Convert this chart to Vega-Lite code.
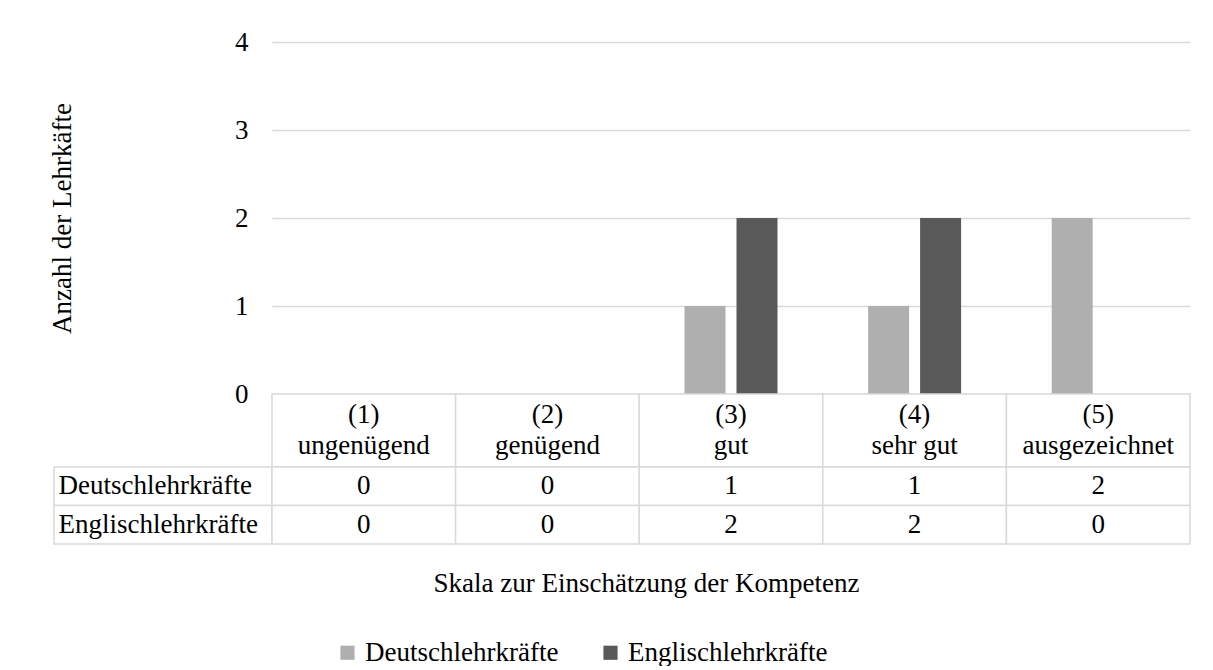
{
  "$schema": "https://vega.github.io/schema/vega-lite/v6.json",
  "padding": {"left": 47, "top": 28, "right": 0, "bottom": 0},
  "background": "white",
  "datasets": {
    "werte": [
      {"kat": "(1)\nungenügend", "gruppe": "Deutschlehrkräfte", "anzahl": 0},
      {"kat": "(1)\nungenügend", "gruppe": "Englischlehrkräfte", "anzahl": 0},
      {"kat": "(2)\ngenügend", "gruppe": "Deutschlehrkräfte", "anzahl": 0},
      {"kat": "(2)\ngenügend", "gruppe": "Englischlehrkräfte", "anzahl": 0},
      {"kat": "(3)\ngut", "gruppe": "Deutschlehrkräfte", "anzahl": 1},
      {"kat": "(3)\ngut", "gruppe": "Englischlehrkräfte", "anzahl": 2},
      {"kat": "(4)\nsehr gut", "gruppe": "Deutschlehrkräfte", "anzahl": 1},
      {"kat": "(4)\nsehr gut", "gruppe": "Englischlehrkräfte", "anzahl": 2},
      {"kat": "(5)\nausgezeichnet", "gruppe": "Deutschlehrkräfte", "anzahl": 2},
      {"kat": "(5)\nausgezeichnet", "gruppe": "Englischlehrkräfte", "anzahl": 0}
    ]
  },
  "columns": 2,
  "spacing": 0,
  "bounds": "flush",
  "align": "each",
  "concat": [
    {
      "width": 218, "height": 352,
      "data": {"values": [{}]},
      "mark": {"type": "text", "text": ""}
    },
    {
      "width": 918, "height": 352,
      "data": {"name": "werte"},
      "mark": {"type": "bar"},
      "encoding": {
        "x": {"field": "kat", "type": "nominal", "sort": null, "axis": null,
              "scale": {"paddingInner": 0.4935, "paddingOuter": 0.24675}},
        "xOffset": {"field": "gruppe", "type": "nominal", "sort": ["Deutschlehrkräfte", "Englischlehrkräfte"],
                    "scale": {"paddingInner": 0.2115, "paddingOuter": 0}},
        "y": {"field": "anzahl", "type": "quantitative",
              "scale": {"domain": [0, 4], "nice": false},
              "axis": {"values": [0, 1, 2, 3, 4], "title": "Anzahl der Lehrkäfte",
                       "titleX": -210, "titleY": 176, "titleAngle": -90, "titleBaseline": "middle", "titleAlign": "center",
                       "labelPadding": 24, "ticks": false, "domain": false,
                       "grid": true, "gridColor": "#d9d9d9", "gridWidth": 1.5,
                       "labelFontSize": 27, "titleFontSize": 27}},
        "color": {"field": "gruppe", "type": "nominal",
                  "scale": {"domain": ["Deutschlehrkräfte", "Englischlehrkräfte"], "range": ["#afafaf", "#595959"]},
                  "legend": {"orient": "none", "direction": "horizontal", "legendX": 280, "legendY": 597,
                             "title": null, "symbolType": "square", "symbolSize": 200, "symbolStrokeWidth": 0,
                             "labelFontSize": 27, "labelLimit": 400, "labelOffset": 4, "columnPadding": 38}}
      }
    },
    {
      "width": 218, "height": 73,
      "data": {"values": [{}]},
      "mark": {"type": "text", "text": ""}
    },
    {
      "width": 918, "height": 73,
      "data": {"name": "werte"},
      "transform": [{"filter": "datum.gruppe === 'Deutschlehrkräfte'"}],
      "encoding": {
        "x": {"field": "kat", "type": "nominal", "sort": null, "axis": null,
              "scale": {"paddingInner": 0, "paddingOuter": 0}}
      },
      "layer": [
        {"mark": {"type": "rect", "fill": "white", "stroke": "#d9d9d9", "strokeWidth": 1.5}},
        {"mark": {"type": "text", "lineBreak": "\n", "lineHeight": 31, "fontSize": 27, "baseline": "middle", "dy": -15.5},
         "encoding": {"text": {"field": "kat"}}}
      ]
    },
    {
      "width": 218, "height": 77,
      "data": {"name": "werte"},
      "transform": [{"filter": "datum.kat === '(1)\\nungenügend'"}],
      "mark": {"type": "rect", "fill": "white", "stroke": "#d9d9d9", "strokeWidth": 1.5},
      "encoding": {
        "y": {"field": "gruppe", "type": "nominal", "sort": ["Deutschlehrkräfte", "Englischlehrkräfte"],
              "scale": {"paddingInner": 0, "paddingOuter": 0},
              "axis": {"title": null, "ticks": false, "domain": false, "labelPadding": -4, "labelAlign": "left",
                       "labelFontSize": 27, "labelLimit": 400, "zindex": 2}}
      }
    },
    {
      "width": 918, "height": 77,
      "data": {"name": "werte"},
      "encoding": {
        "x": {"field": "kat", "type": "nominal", "sort": null,
              "scale": {"paddingInner": 0, "paddingOuter": 0},
              "axis": {"labels": false, "ticks": false, "domain": false, "title": "Skala zur Einschätzung der Kompetenz",
                       "titleX": 374, "titleY": 39, "titleBaseline": "middle", "titleAnchor": null, "titleAlign": "center",
                       "titleFontSize": 27}},
        "y": {"field": "gruppe", "type": "nominal", "sort": ["Deutschlehrkräfte", "Englischlehrkräfte"],
              "scale": {"paddingInner": 0, "paddingOuter": 0}, "axis": null}
      },
      "layer": [
        {"mark": {"type": "rect", "fill": "white", "stroke": "#d9d9d9", "strokeWidth": 1.5}},
        {"mark": {"type": "text", "fontSize": 27, "baseline": "middle"},
         "encoding": {"text": {"field": "anzahl", "type": "quantitative"}}}
      ]
    }
  ],
  "config": {
    "font": "Liberation Serif",
    "view": {"stroke": null},
    "axis": {"labelFont": "Liberation Serif", "titleFont": "Liberation Serif", "labelColor": "#000000",
             "titleColor": "#000000", "titleFontWeight": "normal"},
    "legend": {"labelFont": "Liberation Serif", "labelColor": "#000000"},
    "text": {"font": "Liberation Serif", "color": "#000000"}
  }
}
